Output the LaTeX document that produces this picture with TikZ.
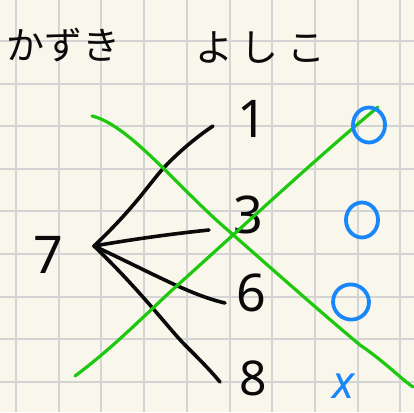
\documentclass[tikz,border=0pt]{standalone}
\usepackage{fontspec}
\setmainfont{Noto Sans}
\newfontfamily\jpfont{Noto Sans CJK JP}
\usetikzlibrary{shapes.geometric}
\definecolor{paper}{RGB}{249,247,235}
\definecolor{gridc}{RGB}{212,212,212}
\definecolor{pen}{RGB}{10,10,10}
\definecolor{mgreen}{RGB}{30,200,15}
\definecolor{mblue}{RGB}{25,135,250}
\tikzset{
  ink/.style={draw=pen,line width=3.6pt,line cap=round,line join=round},
  gline/.style={draw=mgreen,line width=3.2pt,line cap=round,line join=round},
  jp/.style={font=\jpfont\fontsize{38}{40}\selectfont,text=pen,inner sep=0pt},
  num/.style={font=\fontsize{52}{54}\selectfont,text=pen,inner sep=0pt},
  oval/.style={ellipse,draw=mblue,line width=3.8pt,minimum width=32pt,minimum height=35pt,inner sep=0pt},
  xmark/.style={font=\fontsize{46}{48}\selectfont\itshape,text=mblue,inner sep=0pt}
}
\begin{document}
\begin{tikzpicture}[x=1pt,y=-1pt]
\fill[paper] (0,0) rectangle (414,412);
\useasboundingbox (0,0) rectangle (414,412);
% grid
\foreach \i in {0,...,9}{\draw[gridc,line width=2pt] ({16+42.7*\i},0) -- ({16+42.7*\i},412);}
\foreach \j in {0,...,8}{\draw[gridc,line width=2pt] (0,{41+42.6*\j}) -- (414,{41+42.6*\j});}
% headers
\node[jp] (kazuki) at (63,45) {かずき};
\node[jp] (yoshiko) at (260,48) {よ\hspace{8pt}し\hspace{8pt}こ};
% numbers
\node[num] (n7) at (48,255) {7};
\node[num] (n1) at (252,119) {1};
\node[num] (n3) at (248,215) {3};
\node[num] (n6) at (251,293) {6};
\node[num,font=\fontsize{48}{50}\selectfont] (n8) at (253,378) {8};
% fan
\coordinate (f) at (94,246);
\coordinate (e1) at (213,126);
\coordinate (e3) at (209,230);
\coordinate (e6) at (225,303);
\coordinate (e8) at (220,382);
\draw[ink] (f) .. controls (130,212) and (145,190) .. (160,172) .. controls (175,155) and (195,138) .. (e1);
\draw[ink] (f) .. controls (140,238) and (180,233) .. (e3);
\draw[ink] (f) .. controls (150,272) and (190,295) .. (e6);
\draw[ink] (f) .. controls (140,290) and (170,330) .. (185,345) .. controls (200,360) and (210,370) .. (e8);
% green lines
\coordinate (g1a) at (92,116);
\coordinate (g1b) at (413,387);
\coordinate (g2a) at (75,376);
\coordinate (g2b) at (378,107);
\draw[gline] (g1a) .. controls (130,125) and (180,190) .. (230,232) .. controls (290,285) and (330,320) .. (360,345) .. controls (385,362) and (400,378) .. (g1b);
\draw[gline] (g2a) .. controls (110,350) and (140,320) .. (170,292) .. controls (250,220) and (320,155) .. (g2b);
% marks
\node[oval] (o1) at (369,125) {};
\node[oval] (o2) at (362,220) {};
\node[oval,minimum width=36pt,rotate=-20] (o3) at (351,302) {};
\node[xmark] (x4) at (344,386) {x};
\end{tikzpicture}
\end{document}
